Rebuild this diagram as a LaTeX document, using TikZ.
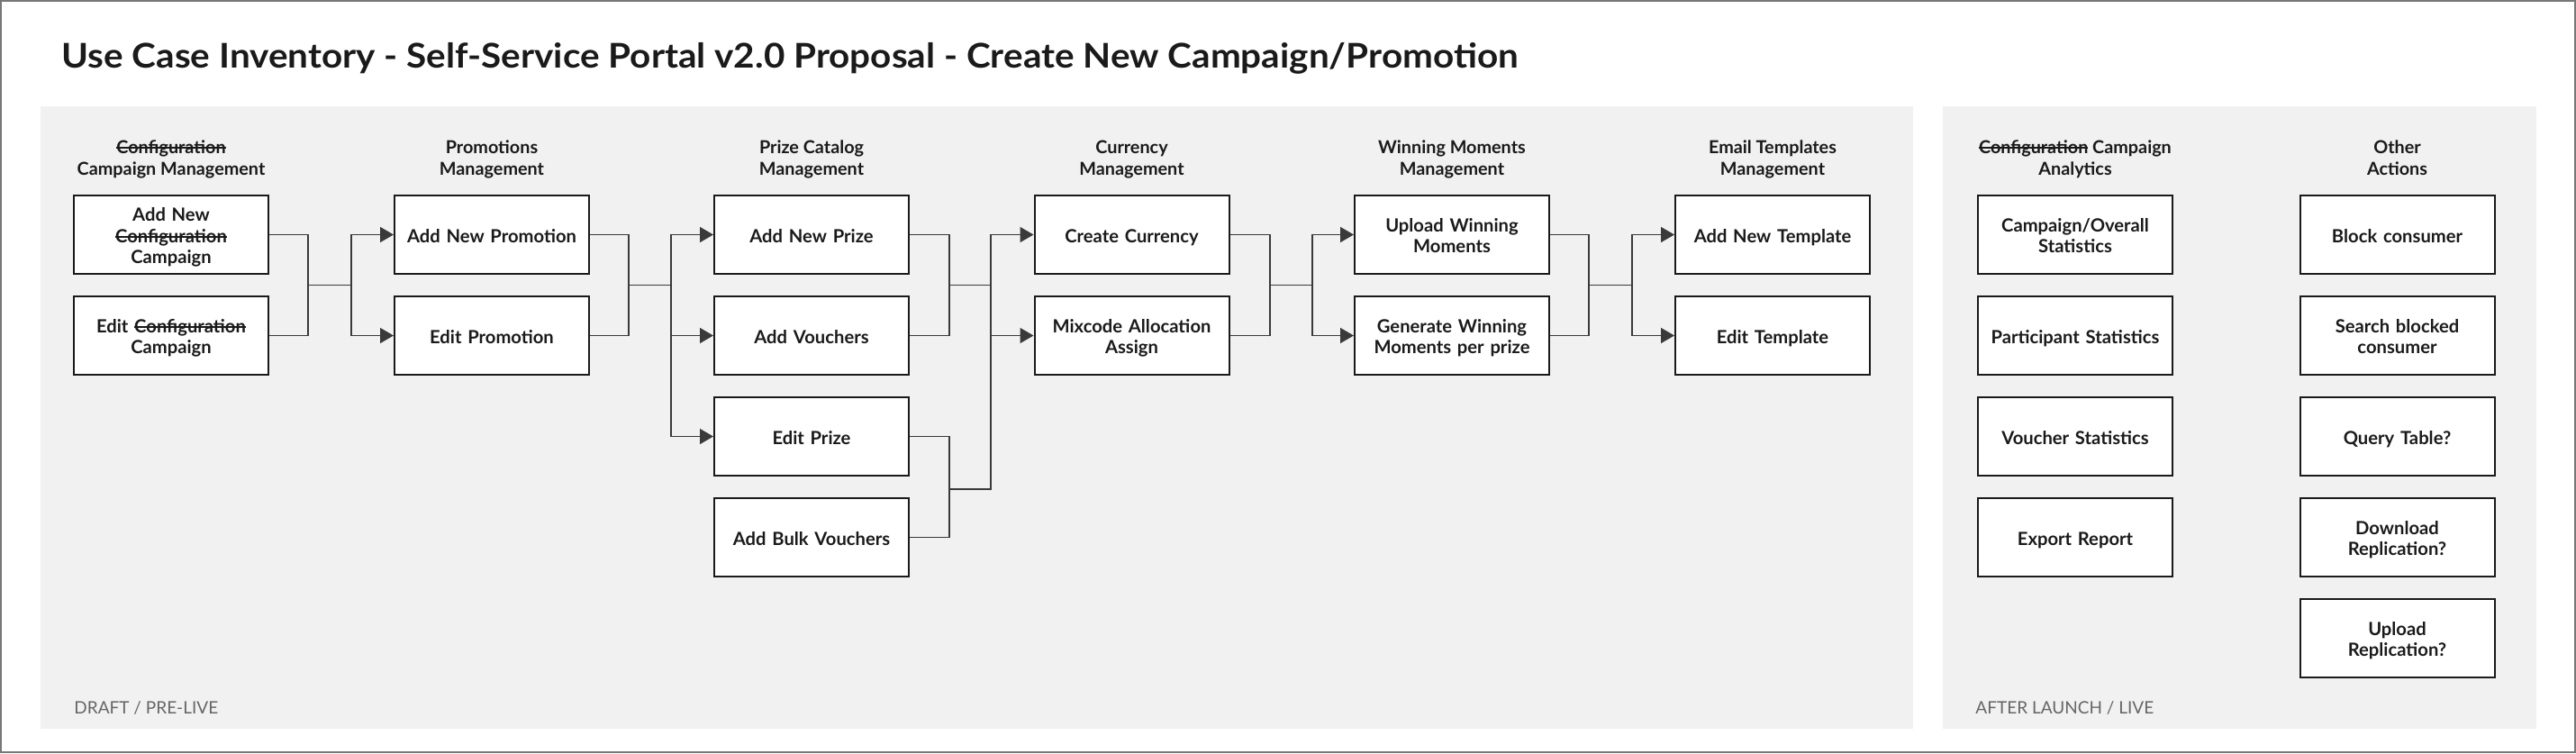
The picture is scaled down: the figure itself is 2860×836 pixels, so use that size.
\documentclass[tikz,border=0pt]{standalone}
\usepackage{fontspec}
\setmainfont{Lato}
\newfontfamily\titlefont{Lato}[FakeStretch=1.07]
\usetikzlibrary{arrows.meta}

\definecolor{panelgray}{HTML}{F1F1F1}
\definecolor{framegray}{HTML}{777777}
\definecolor{inkblack}{HTML}{1A1A1A}
\definecolor{wiregray}{HTML}{3A3A3A}
\definecolor{notegray}{HTML}{666666}

% struck-out word
\newsavebox\strkbox
\newcommand\strk[1]{\leavevmode\sbox\strkbox{#1}\rlap{\usebox\strkbox}\rule[0.27em]{\wd\strkbox}{0.08em}}
% struts that centre the lines on their capitals
\newcommand\capstrut{\rule[-2.8pt]{0pt}{14.3pt}}
\newcommand\topstrut{\rule{0pt}{11.5pt}}
\newcommand\botstrut{\rule[-2.8pt]{0pt}{2.8pt}}

\begin{document}
\begin{tikzpicture}[x=0.5pt,y=-0.5pt,
    usecase/.style={draw=inkblack,line width=1pt,fill=white,
        minimum width=108pt,minimum height=43.5pt,inner sep=0pt,
        text width=106pt,align=center,text=inkblack,font=\bfseries\fontsize{10.1}{11.7}\selectfont,
        execute at begin node=\topstrut,execute at end node=\botstrut},
    heading/.style={align=center,text=inkblack,font=\bfseries\fontsize{9.9}{12.3}\selectfont,
        execute at begin node=\capstrut,execute at end node=\capstrut},
    phase/.style={anchor=base west,inner sep=0,text=notegray,font=\fontsize{9.5}{11}\selectfont},
    link/.style={draw=wiregray,line width=0.75pt},
    arrow/.style={link,-{Triangle[length=7.5pt,width=8.5pt]}}]
    \useasboundingbox (0,0) rectangle (2860,836);

    % frame and the two phase panels
    \draw[framegray,line width=1pt] (1,1) rectangle (2859,835);
    \fill[panelgray] (45,118) rectangle (2124,809);
    \fill[panelgray] (2157,118) rectangle (2816,809);

    % title
    \node[anchor=base west,inner sep=0,text=inkblack,font=\titlefont\bfseries\fontsize{18.9}{22}\selectfont]
        (title) at (68,75.7) {Use Case Inventory - Self-Service Portal v2.0 Proposal - Create New Campaign/Promotion};

    % column headings
    \node[heading] (hcamp)  at (190,178)    {\strk{Configuration}\\Campaign Management};
    \node[heading] (hpromo) at (546,178)    {Promotions\\Management};
    \node[heading] (hprize) at (901,178)    {Prize Catalog\\Management};
    \node[heading] (hcur)   at (1256.5,178) {Currency\\Management};
    \node[heading] (hwm)    at (1612,178)   {Winning Moments\\Management};
    \node[heading] (htpl)   at (1968,178)   {Email Templates\\Management};
    \node[heading] (hstats) at (2304,178)   {\strk{Configuration} Campaign\\Analytics};
    \node[heading] (hother) at (2661.5,178) {Other\\Actions};

    % draft / pre-live use cases
    \node[usecase] (addcamp)   at (190,260.5)    {Add New\\\strk{Configuration}\\Campaign};
    \node[usecase] (editcamp)  at (190,372.5)    {Edit \strk{Configuration}\\Campaign};
    \node[usecase] (addpromo)  at (546,260.5)    {Add New Promotion};
    \node[usecase] (editpromo) at (546,372.5)    {Edit Promotion};
    \node[usecase] (addprize)  at (901,260.5)    {Add New Prize};
    \node[usecase] (addvouch)  at (901,372.5)    {Add Vouchers};
    \node[usecase] (editprize) at (901,484.5)    {Edit Prize};
    \node[usecase] (bulkvouch) at (901,596.5)    {Add Bulk Vouchers};
    \node[usecase] (createcur) at (1256.5,260.5) {Create Currency};
    \node[usecase] (mixcode)   at (1256.5,372.5) {Mixcode Allocation\\Assign};
    \node[usecase] (uploadwm)  at (1612,260.5)   {Upload Winning\\Moments};
    \node[usecase] (genwm)     at (1612,372.5)   {Generate Winning\\Moments per prize};
    \node[usecase] (addtpl)    at (1968,260.5)   {Add New Template};
    \node[usecase] (edittpl)   at (1968,372.5)   {Edit Template};

    % after launch / live use cases
    \node[usecase] (campstats)  at (2304,260.5)   {Campaign/Overall\\Statistics};
    \node[usecase] (partstats)  at (2304,372.5)   {Participant Statistics};
    \node[usecase] (vouchstats) at (2304,484.5)   {Voucher Statistics};
    \node[usecase] (export)     at (2304,596.5)   {Export Report};
    \node[usecase] (block)      at (2661.5,260.5) {Block consumer};
    \node[usecase] (search)     at (2661.5,372.5) {Search blocked\\consumer};
    \node[usecase] (query)      at (2661.5,484.5) {Query Table?};
    \node[usecase] (download)   at (2661.5,596.5) {Download\\Replication?};
    \node[usecase] (upload)     at (2661.5,708.5) {Upload\\Replication?};

    % junctions between the columns
    \coordinate (m1) at (342,316.5);  \coordinate (s1) at (390,316.5);
    \coordinate (m2) at (698,316.5);  \coordinate (s2) at (745,316.5);
    \coordinate (m3) at (1054,316.5); \coordinate (s3) at (1100,316.5);
    \coordinate (m3b) at (1054,543);  \coordinate (s3b) at (1100,543);
    \coordinate (m4) at (1410,316.5); \coordinate (s4) at (1457,316.5);
    \coordinate (m5) at (1764,316.5); \coordinate (s5) at (1812,316.5);

    % campaign -> promotions
    \draw[link] (addcamp.east) -| (m1);
    \draw[link] (editcamp.east) -| (m1);
    \draw[link] (m1) -- (s1);
    \draw[arrow] (s1) |- (addpromo.west);
    \draw[arrow] (s1) |- (editpromo.west);

    % promotions -> prize catalog
    \draw[link] (addpromo.east) -| (m2);
    \draw[link] (editpromo.east) -| (m2);
    \draw[link] (m2) -- (s2);
    \draw[arrow] (s2) |- (addprize.west);
    \draw[arrow] (s2) |- (addvouch.west);
    \draw[arrow] (s2) |- (editprize.west);

    % prize catalog -> currency
    \draw[link] (addprize.east) -| (m3);
    \draw[link] (addvouch.east) -| (m3);
    \draw[link] (m3) -- (s3);
    \draw[link] (editprize.east) -| (m3b);
    \draw[link] (bulkvouch.east) -| (m3b);
    \draw[link] (m3b) -- (s3b) -- (s3);
    \draw[arrow] (s3) |- (createcur.west);
    \draw[arrow] (s3) |- (mixcode.west);

    % currency -> winning moments
    \draw[link] (createcur.east) -| (m4);
    \draw[link] (mixcode.east) -| (m4);
    \draw[link] (m4) -- (s4);
    \draw[arrow] (s4) |- (uploadwm.west);
    \draw[arrow] (s4) |- (genwm.west);

    % winning moments -> email templates
    \draw[link] (uploadwm.east) -| (m5);
    \draw[link] (genwm.east) -| (m5);
    \draw[link] (m5) -- (s5);
    \draw[arrow] (s5) |- (addtpl.west);
    \draw[arrow] (s5) |- (edittpl.west);

    % phase labels
    \node[phase] (draft) at (82,792)   {DRAFT / PRE-LIVE};
    \node[phase] (live)  at (2193,792) {AFTER LAUNCH / LIVE};
\end{tikzpicture}
\end{document}
